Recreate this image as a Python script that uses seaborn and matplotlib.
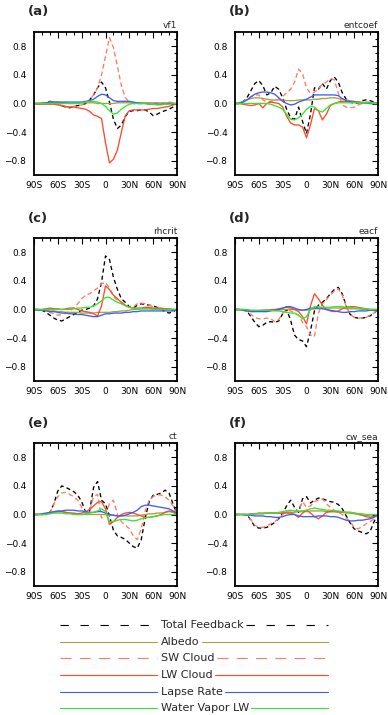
import numpy as np
import pandas as pd
import matplotlib
matplotlib.use("Agg")
import matplotlib.pyplot as plt
import seaborn as sns
from matplotlib.ticker import MultipleLocator

# latitude grid (5 degree steps, 90S -> 90N)
lat = np.arange(-90, 91, 5)

xtick_vals = [-90, -60, -30, 0, 30, 60, 90]
xtick_labels = ["90S", "60S", "30S", "0", "30N", "60N", "90N"]

series_names = ["Total Feedback", "Albedo", "SW Cloud", "LW Cloud",
                "Lapse Rate", "Water Vapor LW"]
series_colors = ["#000000", "#aaa13c", "#ff7b5e", "#ff4a2c", "#3b5cff", "#30e830"]

# ---- (a) vf1 ----
vf1_total = [0, 0, 0, 0.01, 0.03, 0.02, 0.0, -0.03, -0.05, -0.06, -0.04, -0.03, -0.02, 0.0,
             0.05, 0.12, 0.22, 0.30, 0.22, 0.02, -0.22, -0.35, -0.30, -0.18,
             -0.11, -0.10, -0.10, -0.09, -0.09, -0.12, -0.17, -0.15, -0.12, -0.10, -0.08, -0.05, 0]
vf1_albedo = [0, 0, 0.01, 0.01, 0.02, 0.02, 0.02, 0.01, 0.01, 0.0, 0.0, 0.0, 0.01, 0.01,
              0.01, 0.01, 0.0, 0.0, 0.0, 0.0, 0.0, 0.01, 0.01, 0.01,
              0.01, 0.01, 0.01, 0.01, 0.01, 0.01, 0.01, 0.01, 0.01, 0.01, 0.01, 0.0, 0]
vf1_sw = [0, 0, 0, 0, 0.02, 0.02, 0.01, -0.02, -0.05, -0.05, -0.04, -0.03, -0.02, 0.0,
          0.05, 0.12, 0.22, 0.40, 0.66, 0.92, 0.78, 0.52, 0.25, 0.08,
          0.02, 0.0, -0.01, 0.0, 0.01, 0.01, 0.0, 0.0, -0.01, 0.0, 0.02, 0.01, 0]
vf1_lw = [0, -0.01, -0.01, -0.01, -0.01, -0.01, -0.02, -0.03, -0.04, -0.05, -0.05, -0.06, -0.07, -0.08,
          -0.11, -0.16, -0.18, -0.21, -0.55, -0.83, -0.78, -0.65, -0.40, -0.17,
          -0.10, -0.09, -0.09, -0.09, -0.09, -0.08, -0.07, -0.07, -0.06, -0.05, -0.04, -0.02, 0]
vf1_lr = [0, 0, 0, 0.01, 0.02, 0.02, 0.02, 0.02, 0.02, 0.02, 0.02, 0.02, 0.02, 0.03,
          0.04, 0.06, 0.10, 0.13, 0.12, 0.08, 0.04, 0.03, 0.03, 0.03,
          0.03, 0.02, 0.01, 0.0, 0.0, -0.01, -0.01, -0.01, -0.01, -0.01, 0.0, 0.0, 0]
vf1_wv = [0, 0, 0, 0, 0, 0, 0, 0, 0, 0, 0, 0, 0.01, 0.02,
          0.03, 0.03, 0.02, 0.0, -0.04, -0.10, -0.15, -0.13, -0.08, -0.04,
          -0.01, 0, 0, 0, 0, -0.01, -0.01, -0.02, -0.02, -0.01, -0.01, 0.0, 0]

# ---- (b) entcoef ----
ent_total = [0, 0, 0.02, 0.08, 0.18, 0.28, 0.32, 0.25, 0.12, 0.15, 0.24, 0.20, 0.08, -0.08,
             -0.20, -0.22, -0.05, -0.25, -0.42, -0.15, 0.22, 0.20, 0.28, 0.20,
             0.32, 0.37, 0.30, 0.15, 0.06, 0.02, 0.0, 0.01, 0.04, 0.05, 0.04, 0.02, 0]
ent_albedo = [0, 0.01, 0.03, 0.05, 0.07, 0.08, 0.08, 0.07, 0.06, 0.05, 0.05, 0.05, 0.05, 0.04,
              0.04, 0.04, 0.05, 0.05, 0.05, 0.05, 0.06, 0.06, 0.07, 0.07,
              0.08, 0.08, 0.07, 0.06, 0.05, 0.04, 0.03, 0.02, 0.02, 0.01, 0.01, 0.0, 0]
ent_sw = [0, 0, 0.02, 0.05, 0.10, 0.12, 0.12, 0.05, 0.02, 0.03, 0.04, 0.06, 0.10, 0.15,
          0.20, 0.30, 0.48, 0.42, 0.22, 0.14, 0.16, 0.20, 0.27, 0.30,
          0.35, 0.33, 0.15, -0.02, -0.05, -0.06, -0.05, -0.02, 0.0, 0.02, 0.02, 0.01, 0]
ent_lw = [0, 0, -0.01, -0.02, -0.03, -0.02, 0.0, -0.06, 0.0, 0.02, 0.01, 0.0, -0.05, -0.18,
          -0.27, -0.30, -0.30, -0.33, -0.48, -0.30, -0.07, -0.10, -0.23, -0.15,
          -0.03, 0.0, 0.02, 0.03, 0.03, 0.02, 0.02, 0.02, 0.01, 0.01, 0.0, 0.0, 0]
ent_lr = [0, 0, 0.02, 0.05, 0.09, 0.13, 0.15, 0.16, 0.16, 0.15, 0.13, 0.08, 0.03, 0.0,
          -0.02, -0.01, 0.02, 0.04, 0.06, 0.09, 0.12, 0.12, 0.12, 0.12,
          0.12, 0.12, 0.11, 0.07, 0.04, 0.02, 0.02, 0.01, 0.01, 0.01, 0.0, 0.0, 0]
ent_wv = [0, 0, 0, 0, 0, 0, 0, 0, 0, -0.01, -0.03, -0.05, -0.08, -0.15,
          -0.22, -0.23, -0.20, -0.15, -0.08, -0.04, -0.05, -0.10, -0.12, -0.07,
          -0.02, 0.0, 0.01, 0.01, 0.01, 0.01, 0.01, 0.01, 0.01, 0.01, 0.01, 0.0, 0]

# ---- (c) rhcrit ----
rh_total = [0, 0, -0.01, -0.04, -0.08, -0.12, -0.15, -0.16, -0.13, -0.10, -0.07, -0.04, -0.01, 0.0,
            0.02, 0.05, 0.15, 0.38, 0.75, 0.70, 0.45, 0.28, 0.15, 0.10,
            0.04, 0.02, 0.06, 0.08, 0.07, 0.06, 0.05, 0.03, 0.0, -0.03, -0.05, -0.03, 0]
rh_albedo = [0, 0, -0.01, -0.01, -0.02, -0.02, -0.03, -0.03, -0.04, -0.04, -0.04, -0.04, -0.05, -0.05,
             -0.05, -0.05, -0.04, -0.04, -0.04, -0.04, -0.03, -0.03, -0.02, -0.02,
             -0.01, 0.0, 0.0, 0.01, 0.01, 0.01, 0.01, 0.01, 0.01, 0.01, 0.0, 0.0, 0]
rh_sw = [0, 0, 0, -0.02, -0.04, -0.06, -0.08, -0.07, -0.05, -0.02, 0.02, 0.08, 0.15, 0.20,
         0.22, 0.26, 0.30, 0.36, 0.38, 0.30, 0.18, 0.13, 0.10, 0.07,
         0.03, 0.04, 0.08, 0.09, 0.08, 0.06, 0.04, 0.02, 0.01, 0.0, -0.01, 0.0, 0]
rh_lw = [0, 0, 0, 0.01, 0.02, 0.01, 0.01, 0.0, 0.01, 0.02, 0.02, 0.0, -0.02, -0.03,
         -0.04, -0.06, -0.09, 0.05, 0.33, 0.28, 0.20, 0.15, 0.10, 0.06,
         0.03, 0.02, 0.02, 0.02, 0.03, 0.03, 0.02, 0.02, 0.02, 0.01, 0.01, 0.0, 0]
rh_lr = [0, -0.01, -0.01, -0.02, -0.03, -0.03, -0.04, -0.05, -0.05, -0.06, -0.06, -0.07, -0.07, -0.08,
         -0.09, -0.10, -0.10, -0.08, -0.06, -0.06, -0.05, -0.05, -0.05, -0.04,
         -0.04, -0.03, -0.03, -0.02, -0.02, -0.02, -0.02, -0.02, -0.02, -0.02, -0.02, -0.02, 0]
rh_wv = [0, 0, 0, 0, 0, 0, 0, 0, 0, 0, 0.01, 0.02, 0.02, 0.03,
         0.03, 0.05, 0.08, 0.12, 0.17, 0.17, 0.13, 0.10, 0.08, 0.05,
         0.03, 0.02, 0.01, 0.01, 0.01, 0.01, 0, 0, 0, 0, 0, 0, 0]

# ---- (d) eacf ----
ea_total = [0, 0, 0, -0.02, -0.10, -0.18, -0.24, -0.22, -0.18, -0.17, -0.18, -0.16, -0.06, 0.0,
            -0.15, -0.36, -0.42, -0.44, -0.52, -0.30, -0.02, 0.06, 0.10, 0.15,
            0.22, 0.28, 0.31, 0.22, 0.05, -0.07, -0.11, -0.12, -0.12, -0.11, -0.09, -0.05, 0]
ea_albedo = [0, 0, -0.01, -0.01, -0.02, -0.02, -0.02, -0.02, -0.01, -0.01, -0.01, -0.01, 0.0, 0.0,
             0.0, 0.0, -0.01, -0.01, -0.01, 0.0, 0.01, 0.01, 0.02, 0.02,
             0.02, 0.02, 0.02, 0.02, 0.01, 0.01, 0.01, 0.01, 0.0, 0.0, 0.0, 0.0, 0]
ea_sw = [0, 0, -0.01, -0.03, -0.07, -0.11, -0.13, -0.13, -0.12, -0.13, -0.17, -0.14, -0.05, -0.01,
         -0.02, -0.05, -0.08, -0.18, -0.24, -0.36, -0.38, -0.05, 0.08, 0.14,
         0.20, 0.26, 0.29, 0.20, 0.04, -0.07, -0.11, -0.12, -0.12, -0.11, -0.08, -0.05, 0]
ea_lw = [0, 0, 0, -0.01, -0.02, -0.02, -0.02, -0.01, -0.01, 0.0, 0.0, 0.01, 0.02, 0.03,
         0.02, 0.0, -0.03, -0.10, -0.20, 0.05, 0.22, 0.15, 0.06, 0.0,
         -0.02, -0.03, -0.02, 0.01, 0.03, 0.04, 0.04, 0.03, 0.02, 0.01, 0.0, 0.0, 0]
ea_lr = [0, 0, -0.01, -0.02, -0.03, -0.03, -0.03, -0.03, -0.03, -0.02, -0.01, 0.0, 0.02, 0.04,
         0.04, 0.02, 0.0, -0.01, 0.0, 0.02, 0.02, 0.02, 0.01, 0.0,
         -0.01, -0.02, -0.03, -0.04, -0.04, -0.03, -0.03, -0.02, -0.02, -0.02, -0.01, -0.01, 0]
ea_wv = [0, 0, 0, 0, -0.01, -0.01, -0.01, -0.01, -0.01, -0.01, -0.02, -0.02, -0.03, -0.04,
         -0.05, -0.05, -0.08, -0.13, -0.10, 0.0, 0.04, 0.04, 0.03, 0.03,
         0.03, 0.04, 0.04, 0.04, 0.03, 0.03, 0.02, 0.02, 0.01, 0.01, 0.0, 0.0, 0]

# ---- (e) ct ----
ct_total = [0, 0, 0, 0.01, 0.03, 0.15, 0.33, 0.40, 0.38, 0.35, 0.32, 0.27, 0.18, 0.03,
            0.05, 0.38, 0.46, 0.20, 0.15, -0.02, -0.22, -0.30, -0.32, -0.35,
            -0.40, -0.45, -0.47, -0.35, -0.05, 0.18, 0.27, 0.28, 0.30, 0.34, 0.30, 0.15, 0]
ct_albedo = [0, 0, 0, 0.01, 0.02, 0.03, 0.04, 0.04, 0.03, 0.02, 0.01, 0.01, 0.0, 0.0,
             0.0, 0.0, 0.0, 0.0, 0.0, -0.01, -0.01, -0.02, -0.02, -0.02,
             -0.02, -0.02, -0.02, -0.01, 0.0, 0.01, 0.01, 0.02, 0.02, 0.03, 0.04, 0.03, 0.01]
ct_sw = [0, 0, 0, 0, 0.03, 0.15, 0.25, 0.30, 0.31, 0.28, 0.25, 0.20, 0.10, 0.03,
         0.05, 0.25, 0.28, -0.05, 0.0, 0.15, 0.20, 0.0, -0.10, -0.15,
         -0.20, -0.30, -0.35, -0.20, 0.05, 0.20, 0.25, 0.28, 0.27, 0.25, 0.20, 0.12, 0]
ct_lw = [0, 0, 0, 0.01, 0.02, 0.03, 0.04, 0.04, 0.03, 0.02, 0.02, 0.01, 0.02, 0.04,
         0.07, 0.12, 0.17, 0.18, 0.08, -0.14, -0.10, -0.04, 0.0, 0.02,
         0.03, 0.02, 0.0, -0.02, -0.04, -0.04, -0.03, -0.02, 0.0, 0.03, 0.05, 0.04, 0]
ct_lr = [0, 0, 0.01, 0.02, 0.03, 0.04, 0.05, 0.05, 0.06, 0.06, 0.06, 0.05, 0.05, 0.04,
         0.03, 0.03, 0.04, 0.04, 0.02, 0.0, -0.01, -0.02, -0.02, -0.01,
         0.01, 0.03, 0.06, 0.11, 0.13, 0.13, 0.12, 0.11, 0.10, 0.09, 0.08, 0.05, 0.02]
ct_wv = [0, 0, 0, 0, 0.01, 0.02, 0.02, 0.02, 0.01, 0.01, 0.0, 0.0, 0.0, 0.01,
         0.02, 0.03, 0.05, 0.08, 0.04, -0.10, -0.10, -0.08, -0.07, -0.07,
         -0.08, -0.09, -0.08, -0.06, -0.05, -0.04, -0.03, -0.02, -0.01, 0.0, 0.0, 0.0, 0]

# ---- (f) cw_sea ----
cw_total = [0, 0, 0, 0, -0.08, -0.17, -0.19, -0.19, -0.18, -0.15, -0.11, -0.06, 0.02, 0.12,
            0.20, 0.10, 0.03, 0.22, 0.25, 0.16, 0.20, 0.23, 0.22, 0.20,
            0.18, 0.17, 0.14, 0.08, -0.02, -0.12, -0.20, -0.23, -0.25, -0.27, -0.24, -0.10, 0]
cw_albedo = [0, 0, 0, 0, 0, 0.01, 0.01, 0.01, 0.02, 0.02, 0.02, 0.02, 0.02, 0.03,
             0.03, 0.03, 0.04, 0.04, 0.04, 0.05, 0.05, 0.05, 0.05, 0.04,
             0.04, 0.04, 0.03, 0.03, 0.02, 0.02, 0.01, 0.0, -0.01, -0.01, -0.02, -0.03, -0.02]
cw_sw = [0, 0, 0, -0.01, -0.07, -0.15, -0.18, -0.18, -0.16, -0.13, -0.10, -0.06, 0.0, 0.05,
         0.05, 0.04, 0.06, 0.18, 0.10, 0.12, 0.18, 0.20, 0.22, 0.15,
         0.10, 0.06, 0.03, 0.0, -0.05, -0.10, -0.18, -0.20, -0.17, -0.13, -0.10, -0.06, 0]
cw_lw = [0, 0, 0, 0, 0.01, 0.01, 0.02, 0.02, 0.02, 0.02, 0.02, 0.02, 0.02, 0.02,
         0.02, 0.0, -0.04, 0.02, 0.06, 0.02, -0.03, -0.06, -0.02, 0.03,
         0.04, 0.04, 0.04, 0.04, 0.03, 0.03, 0.02, 0.01, -0.01, -0.03, -0.04, -0.03, 0]
cw_lr = [0, 0, 0, -0.01, -0.01, -0.02, -0.02, -0.02, -0.03, -0.03, -0.04, -0.04, -0.03, -0.01,
         0.0, 0.0, -0.02, -0.03, -0.03, -0.03, -0.03, -0.02, -0.02, -0.02,
         -0.03, -0.03, -0.04, -0.06, -0.08, -0.09, -0.09, -0.08, -0.08, -0.07, -0.06, -0.04, 0]
cw_wv = [0, 0, 0, 0, 0, 0.01, 0.01, 0.01, 0.02, 0.02, 0.02, 0.03, 0.04, 0.05,
         0.06, 0.05, 0.05, 0.05, 0.06, 0.08, 0.09, 0.08, 0.07, 0.06,
         0.06, 0.05, 0.05, 0.04, 0.03, 0.03, 0.02, 0.01, 0.01, 0, 0, 0, 0]

panels = [
    ("(a)", "vf1", [vf1_total, vf1_albedo, vf1_sw, vf1_lw, vf1_lr, vf1_wv]),
    ("(b)", "entcoef", [ent_total, ent_albedo, ent_sw, ent_lw, ent_lr, ent_wv]),
    ("(c)", "rhcrit", [rh_total, rh_albedo, rh_sw, rh_lw, rh_lr, rh_wv]),
    ("(d)", "eacf", [ea_total, ea_albedo, ea_sw, ea_lw, ea_lr, ea_wv]),
    ("(e)", "ct", [ct_total, ct_albedo, ct_sw, ct_lw, ct_lr, ct_wv]),
    ("(f)", "cw_sea", [cw_total, cw_albedo, cw_sw, cw_lw, cw_lr, cw_wv]),
]

sns.set_style("white")
plt.rcParams["font.family"] = ["DejaVu Sans"]
plt.rcParams["lines.scale_dashes"] = False

W, H = 388, 715
fig = plt.figure(figsize=(W / 100, H / 100), dpi=100)

palette = dict(zip(series_names, series_colors))
panel_dashes = {n: "" for n in series_names}
panel_dashes["Total Feedback"] = (3.0, 2.2)
panel_dashes["SW Cloud"] = (3.4, 2.2)

# panel boxes in pixels: (left, top)
boxes = [(34, 32), (235, 32), (34, 238), (235, 238), (34, 443), (235, 443)]
bw, bh = 143, 143

for (tag, name, vals), (l, t) in zip(panels, boxes):
    for v in vals:
        assert len(v) == len(lat), (name, len(v))
    ax = fig.add_axes([l / W, 1 - (t + bh) / H, bw / W, bh / H])
    df = pd.DataFrame({
        "lat": np.tile(lat, len(series_names)),
        "value": np.concatenate(vals),
        "term": np.repeat(series_names, len(lat)),
    })
    sns.lineplot(data=df, x="lat", y="value", hue="term", style="term",
                 hue_order=series_names, style_order=series_names,
                 palette=palette, dashes=panel_dashes, linewidth=0.95,
                 legend=False, ax=ax)
    ax.set_xlim(-90, 90)
    ax.set_ylim(-1.0, 1.0)
    ax.set_xticks(xtick_vals)
    ax.set_xticklabels(xtick_labels)
    ax.set_yticks([-0.8, -0.4, 0.0, 0.4, 0.8])
    ax.xaxis.set_minor_locator(MultipleLocator(10))
    ax.yaxis.set_minor_locator(MultipleLocator(0.1))
    ax.tick_params(which="both", direction="in", top=True, right=True,
                   width=0.8, colors="black", labelsize=6.5)
    ax.tick_params(which="major", length=4)
    ax.tick_params(which="minor", length=2.2)
    ax.tick_params(axis="y", pad=5.5)
    ax.tick_params(axis="x", pad=4.5)
    ax.set_xlabel("")
    ax.set_ylabel("")
    for sp in ax.spines.values():
        sp.set_linewidth(1.3)
        sp.set_color("black")
    ax.text(1.0, 1.015, name, transform=ax.transAxes, ha="right", va="bottom",
            fontsize=6.5)
    fig.text((l - 6) / W, 1 - (t - 20) / H, tag, ha="left", va="center",
             fontsize=9.5, fontweight="bold")

# custom NCL-style legend below the panels
leg = fig.add_axes([0, 0, 1, 105 / H])
leg.set_xlim(0, W)
leg.set_ylim(H, H - 105)
leg.axis("off")
leg.patch.set_visible(False)

legend_dashes = {"Total Feedback": (6.0, 8.4), "SW Cloud": (7.9, 6.0)}
row_y = [625, 642, 658, 675, 692, 708]
texts = []
for name, color, y in zip(series_names, series_colors, row_y):
    ln, = leg.plot([60, 157], [y, y], color=color, lw=0.8)
    if name in legend_dashes:
        ln.set_dashes(legend_dashes[name])
    texts.append(leg.text(161, y, name, ha="left", va="center", fontsize=8))

fig.canvas.draw()
renderer = fig.canvas.get_renderer()
for name, color, y, t in zip(series_names, series_colors, row_y, texts):
    x_end = t.get_window_extent(renderer).x1
    ln, = leg.plot([x_end + 2, 328], [y, y], color=color, lw=0.8)
    if name in legend_dashes:
        ln.set_dashes(legend_dashes[name])

fig.savefig("out.png", dpi=100)
